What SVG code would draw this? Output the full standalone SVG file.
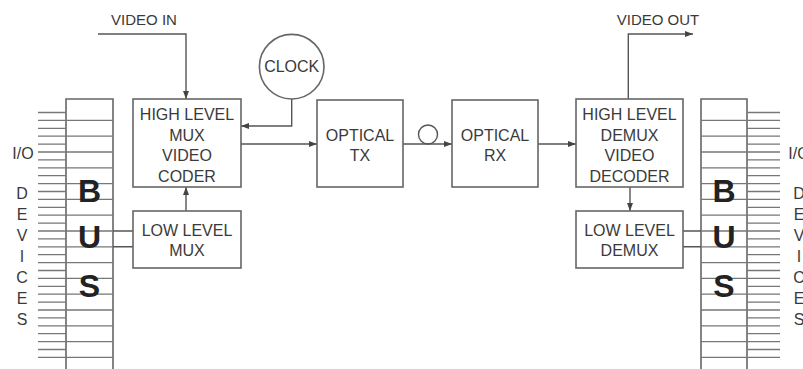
<svg xmlns="http://www.w3.org/2000/svg" width="803" height="369" viewBox="0 0 803 369">
<style>
.box{fill:#fff;stroke:#666;stroke-width:1.6}
.ln{fill:none;stroke:#555;stroke-width:1.4}
.bl{fill:none;stroke:#777;stroke-width:1.3}
.t{font-family:"Liberation Sans",Arial,sans-serif;font-size:16px;fill:#3a3a3a;text-anchor:middle}
.lb{font-family:"Liberation Sans",Arial,sans-serif;font-size:15px;fill:#3a3a3a;text-anchor:middle}
.bus{font-family:"Liberation Sans",Arial,sans-serif;font-size:32px;font-weight:bold;fill:#222;text-anchor:middle}
</style>
<defs>
<marker id="ar" markerUnits="userSpaceOnUse" markerWidth="8" markerHeight="6" refX="8" refY="3" orient="auto">
<path d="M0,0 L8,3 L0,6 z" fill="#444"/>
</marker>
</defs>
<g id="bus-left">
<path class="box" d="M66,369 V99 H113 V369" />
<path class="bl" d="M38,112.5H66M38,120.4H113M38,128.3H66M38,136.2H113M38,144.1H66M38,152H113M38,159.9H66M38,167.8H113M38,175.7H66M38,183.6H113M38,191.5H66M38,199.4H113M38,207.3H66M38,215.2H113M38,223.1H66M38,231H113M38,238.9H66M38,246.8H113M38,254.7H66M38,262.6H113M38,270.5H66M38,278.4H113M38,286.3H66M38,294.2H113M38,302.1H66M38,310H113M38,317.9H66M38,325.8H113M38,333.7H66M38,341.6H113M38,349.5H66M38,357.4H113"/>
<text class="bus" x="89.5" y="202">B</text>
<text class="bus" x="89.5" y="248">U</text>
<text class="bus" x="89.5" y="297">S</text>
<text class="t" x="23" y="158.5">I/O</text>
<text class="t" x="22" y="198.7">D</text>
<text class="t" x="22" y="219.7">E</text>
<text class="t" x="22" y="240.7">V</text>
<text class="t" x="22" y="261.7">I</text>
<text class="t" x="22" y="282.7">C</text>
<text class="t" x="22" y="303.7">E</text>
<text class="t" x="22" y="324.7">S</text>
</g>
<g id="bus-right">
<path class="box" d="M701,369 V99 H747 V369" />
<path class="bl" d="M747,112.5H780M701,120.4H780M747,128.3H780M701,136.2H780M747,144.1H780M701,152H780M747,159.9H780M701,167.8H780M747,175.7H780M701,183.6H780M747,191.5H780M701,199.4H780M747,207.3H780M701,215.2H780M747,223.1H780M701,231H780M747,238.9H780M701,246.8H780M747,254.7H780M701,262.6H780M747,270.5H780M701,278.4H780M747,286.3H780M701,294.2H780M747,302.1H780M701,310H780M747,317.9H780M701,325.8H780M747,333.7H780M701,341.6H780M747,349.5H780M701,357.4H780"/>
<text class="bus" x="724" y="202">B</text>
<text class="bus" x="724" y="248">U</text>
<text class="bus" x="724" y="297">S</text>
<text class="t" x="799" y="158.5">I/O</text>
<text class="t" x="799" y="198.7">D</text>
<text class="t" x="799" y="219.7">E</text>
<text class="t" x="799" y="240.7">V</text>
<text class="t" x="799" y="261.7">I</text>
<text class="t" x="799" y="282.7">C</text>
<text class="t" x="799" y="303.7">E</text>
<text class="t" x="799" y="324.7">S</text>
</g>
<g id="connectors">
<path class="ln" d="M98,34 H186 V99" marker-end="url(#ar)"/>
<path class="ln" d="M291.7,99 V126 H241" marker-end="url(#ar)"/>
<path class="ln" d="M241,144 H317" marker-end="url(#ar)"/>
<path class="ln" d="M403,144 H452" marker-end="url(#ar)"/>
<circle class="ln" cx="428" cy="134.5" r="9.5"/>
<path class="ln" d="M538,144 H576" marker-end="url(#ar)"/>
<path class="ln" d="M186,211 V187" marker-end="url(#ar)"/>
<path class="ln" d="M113,231 H133 M113,246.8 H133"/>
<path class="ln" d="M630,187 V211" marker-end="url(#ar)"/>
<path class="ln" d="M683,231 H701 M683,246.8 H701"/>
<path class="ln" d="M628.3,99 V34 H693" marker-end="url(#ar)"/>
</g>
<g id="video-in"><text class="lb" x="144" y="25.4">VIDEO IN</text></g>
<g id="video-out"><text class="lb" x="658" y="25.4">VIDEO OUT</text></g>
<g id="clock">
<circle class="box" cx="291.7" cy="66.7" r="32.3"/>
<text class="t" x="291.7" y="72.4">CLOCK</text>
</g>
<g id="hl-mux">
<rect class="box" x="133" y="99" width="108" height="88"/>
<text class="t" x="187" y="120">HIGH LEVEL</text>
<text class="t" x="187" y="141">MUX</text>
<text class="t" x="187" y="161">VIDEO</text>
<text class="t" x="187" y="182">CODER</text>
</g>
<g id="ll-mux">
<rect class="box" x="133" y="211" width="108" height="57"/>
<text class="t" x="187" y="236">LOW LEVEL</text>
<text class="t" x="187" y="256">MUX</text>
</g>
<g id="optical-tx">
<rect class="box" x="317" y="100" width="86" height="87"/>
<text class="t" x="360" y="141">OPTICAL</text>
<text class="t" x="360" y="161">TX</text>
</g>
<g id="optical-rx">
<rect class="box" x="452" y="100" width="86" height="87"/>
<text class="t" x="495" y="141">OPTICAL</text>
<text class="t" x="495" y="161">RX</text>
</g>
<g id="hl-demux">
<rect class="box" x="576" y="99" width="107" height="88"/>
<text class="t" x="629.5" y="120">HIGH LEVEL</text>
<text class="t" x="629.5" y="141">DEMUX</text>
<text class="t" x="629.5" y="161">VIDEO</text>
<text class="t" x="629.5" y="182">DECODER</text>
</g>
<g id="ll-demux">
<rect class="box" x="576" y="211" width="107" height="57"/>
<text class="t" x="629.5" y="236">LOW LEVEL</text>
<text class="t" x="629.5" y="256">DEMUX</text>
</g>
</svg>
